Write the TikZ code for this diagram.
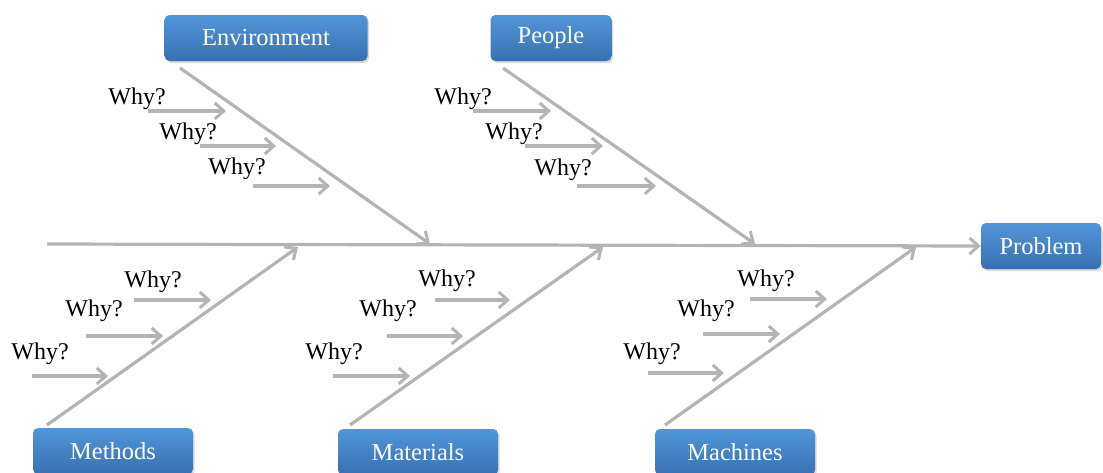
\documentclass[tikz,border=0pt]{standalone}
\usepackage{fontspec}
\setmainfont{Liberation Serif}
\usetikzlibrary{arrows.meta,shadows}
\definecolor{bonegray}{HTML}{B4B4B4}
\definecolor{boxtop}{HTML}{4F96DA}
\definecolor{boxbot}{HTML}{3A70B0}
\tikzset{
  catbox/.style={draw=none, rounded corners=5pt, top color=boxtop, bottom color=boxbot,
    text=white, font=\fontsize{24.5}{26}\selectfont, minimum height=46pt, inner xsep=4pt,
    drop shadow={opacity=0.3, shadow xshift=1.5pt, shadow yshift=-2pt}},
  bone/.style={draw=bonegray, line width=3.2pt, -{Straight Barb[length=9pt,width=16pt,line width=3pt]}},
  why/.style={font=\fontsize{24}{26}\selectfont, inner sep=0pt}
}
\begin{document}
\begin{tikzpicture}[x=1pt,y=-1pt]
\useasboundingbox (0,0) rectangle (1103,472);
% boxes
\node[catbox, minimum width=203pt] (env) at (266,38) {Environment};
\node[catbox, minimum width=121pt] (peo) at (551,38) {People};
\node[catbox, minimum width=120pt] (prob) at (1041,246) {Problem};
\node[catbox, minimum width=160pt] (met) at (113,451) {Methods};
\node[catbox, minimum width=160pt] (mat) at (418,452) {Materials};
\node[catbox, minimum width=160pt] (mac) at (735,452) {Machines};
% spine
\coordinate (s0) at (47,244);
\draw[bone] (s0) -- (prob.west);
% bones
\coordinate (e0) at (180,68);  \coordinate (e1) at (430,244);
\coordinate (p0) at (503,68);  \coordinate (p1) at (755,244);
\coordinate (m0) at (47,425);  \coordinate (m1) at (298,247);
\coordinate (a0) at (350,425); \coordinate (a1) at (603,247);
\coordinate (c0) at (665,425); \coordinate (c1) at (916,247);
\draw[bone] (e0) -- (e1);
\draw[bone] (p0) -- (p1);
\draw[bone] (m0) -- (m1);
\draw[bone] (a0) -- (a1);
\draw[bone] (c0) -- (c1);
% why arrows
\foreach \n/\tx/\ty/\ax/\bx/\ay in {
  e1/137/99/148/226/111, e2/188/134/200/276/146, e3/237/169/253/330/186,
  p1/463/99/473/551/111, p2/514/134/525/603/146, p3/563/170/577/656/186,
  m1/153/282/134/211/300, m2/94/311/86/163/336, m3/40/354/32/108/376,
  a1/447/281/435/510/300, a2/388/311/387/463/336, a3/334/354/333/410/376,
  c1/766/281/750/827/299, c2/706/311/703/780/334, c3/652/354/648/724/373}{
  \node[why] (w\n) at (\tx,\ty) {Why?};
  \coordinate (ws\n) at (\ax,\ay);
  \coordinate (we\n) at (\bx,\ay);
  \draw[bone] (ws\n) -- (we\n);
}
\end{tikzpicture}
\end{document}
